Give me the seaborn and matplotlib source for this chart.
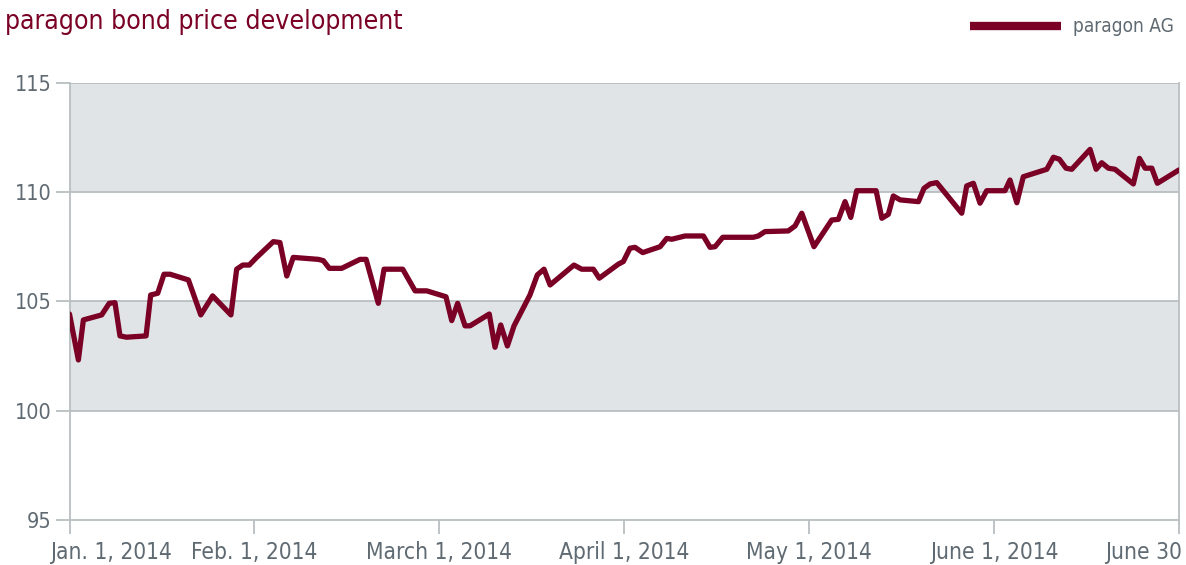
import numpy as np
import pandas as pd
import matplotlib
matplotlib.use("Agg")
import matplotlib.pyplot as plt
import matplotlib.transforms as mtransforms
from matplotlib import font_manager
import seaborn as sns

# ---- data (x in evenly spaced month units: 0 = Jan 1, 6 = June 30) ----
month_pos = [0.000, 0.048, 0.075, 0.174, 0.215, 0.246, 0.273, 0.309, 0.414, 0.439,
             0.477, 0.511, 0.544, 0.643, 0.710, 0.774, 0.873, 0.904, 0.937, 0.972,
             1.012, 1.102, 1.138, 1.175, 1.210, 1.346, 1.373, 1.405, 1.472, 1.571,
             1.604, 1.670, 1.701, 1.802, 1.869, 1.932, 2.036, 2.067, 2.099, 2.139,
             2.166, 2.270, 2.301, 2.332, 2.368, 2.404, 2.490, 2.530, 2.566, 2.599,
             2.728, 2.770, 2.833, 2.865, 2.968, 2.995, 3.031, 3.058, 3.100, 3.194,
             3.230, 3.257, 3.329, 3.428, 3.464, 3.491, 3.533, 3.698, 3.725, 3.761,
             3.887, 3.924, 3.960, 4.026, 4.122, 4.158, 4.194, 4.225, 4.257, 4.362,
             4.393, 4.428, 4.455, 4.492, 4.591, 4.621, 4.654, 4.690, 4.825, 4.852,
             4.888, 4.924, 4.960, 5.059, 5.086, 5.123, 5.158, 5.285, 5.321, 5.353,
             5.389, 5.420, 5.519, 5.552, 5.582, 5.618, 5.654, 5.753, 5.786, 5.817,
             5.853, 5.883, 6.000]
price = [104.42, 102.32, 104.15, 104.38, 104.91, 104.94, 103.42, 103.36, 103.42, 105.29,
         105.37, 106.24, 106.24, 105.98, 104.38, 105.25, 104.38, 106.47, 106.66, 106.66,
         107.01, 107.73, 107.69, 106.16, 107.01, 106.92, 106.86, 106.51, 106.51, 106.92,
         106.92, 104.91, 106.47, 106.47, 105.48, 105.48, 105.21, 104.12, 104.91, 103.88,
         103.88, 104.42, 102.90, 103.92, 102.96, 103.88, 105.29, 106.21, 106.47, 105.75,
         106.66, 106.47, 106.47, 106.06, 106.70, 106.82, 107.43, 107.47, 107.23, 107.50,
         107.88, 107.84, 107.99, 107.99, 107.47, 107.50, 107.93, 107.93, 107.99, 108.19,
         108.22, 108.45, 109.03, 107.50, 108.72, 108.75, 109.56, 108.84, 110.06, 110.06,
         108.80, 108.98, 109.82, 109.64, 109.56, 110.17, 110.37, 110.43, 109.03, 110.28,
         110.40, 109.49, 110.06, 110.06, 110.55, 109.51, 110.70, 111.04, 111.59, 111.50,
         111.09, 111.04, 111.95, 111.04, 111.34, 111.09, 111.04, 110.37, 111.54, 111.09,
         111.09, 110.40, 111.01]
tick_pos = [0, 1, 2, 3, 4, 5, 6]
tick_labels = ["Jan. 1, 2014", "Feb. 1, 2014", "March 1, 2014", "April 1, 2014",
               "May 1, 2014", "June 1, 2014", "June 30"]
y_ticks = [95, 100, 105, 110, 115]
bands = [(100, 105), (110, 115)]
title = "paragon bond price development"
series_name = "paragon AG"

df = pd.DataFrame({"pos": month_pos, "price": price})

# ---- style ----
sns.set_theme(style="white")
available = {f.name for f in font_manager.fontManager.ttflist}
fam = []
for cand in ["Liberation Sans Narrow", "DejaVu Sans"]:
    if cand in available:
        fam.append(cand)
plt.rcParams["font.family"] = fam or ["DejaVu Sans"]
plt.rcParams["font.stretch"] = "condensed"

LINE = "#7a0025"
TXT = "#5f6a72"
GRID = "#b9bec2"
BAND = "#e1e4e7"

W, H = 1186, 565
fig = plt.figure(figsize=(W / 100, H / 100), dpi=100)
ax = fig.add_axes([69.5 / W, 1 - 520 / H, (1179 - 69.5) / W, (520 - 82.7) / H])

for lo, hi in bands:
    ax.axhspan(lo, hi, color=BAND, lw=0, zorder=0)
for yv in y_ticks[1:]:
    ax.axhline(yv, color=GRID, lw=1.3, zorder=1)

sns.lineplot(data=df, x="pos", y="price", ax=ax, color=LINE, linewidth=3.8,
             zorder=3, label=series_name, legend=False)

ax.set_xlim(0, 6)
ax.set_ylim(95, 115)
ax.set_xticks(tick_pos)
ax.set_xticklabels(tick_labels)
ax.set_yticks(y_ticks)
ax.set_xlabel("")
ax.set_ylabel("")

for s in ["left", "bottom", "right"]:
    ax.spines[s].set_visible(True)
    ax.spines[s].set_color(GRID)
    ax.spines[s].set_linewidth(1.3)
ax.spines["top"].set_visible(False)

ax.tick_params(axis="both", colors=GRID, length=10, width=1.3, direction="out",
               labelcolor=TXT, labelsize=16)
ax.tick_params(axis="x", pad=5, bottom=True)
ax.tick_params(axis="y", pad=3, left=True)

# title and legend text
title_t = fig.text(5 / W, 1 - 29 / H, title, color=LINE, fontsize=24, ha="left", va="baseline")
fig.add_artist(plt.Line2D([970 / W, 1061 / W], [1 - 26 / H, 1 - 26 / H],
                          color=LINE, lw=6, solid_capstyle="butt"))
leg_t = fig.text(1073 / W, 1 - 26 / H, series_name, color=TXT, fontsize=14,
                 ha="left", va="center")

# fit font sizes to the reference text widths
renderer = fig.canvas.get_renderer()
def fit(txt, target_px):
    w = txt.get_window_extent(renderer).width
    txt.set_fontsize(txt.get_fontsize() * target_px / w)

fit(title_t, 400)
fit(leg_t, 102)
xl = ax.get_xticklabels()
w0 = xl[0].get_window_extent(renderer).width
xsize = 16 * 123 / w0
ax.tick_params(axis="x", labelsize=xsize)
yl = ax.get_yticklabels()
wy = yl[-1].get_window_extent(renderer).width
ax.tick_params(axis="y", labelsize=16 * 37 / wy)

xl = ax.get_xticklabels()
xl[0].set_horizontalalignment("left")
xl[0].set_transform(xl[0].get_transform() +
                    mtransforms.ScaledTranslation(-19.5 / 100, 0, fig.dpi_scale_trans))
xl[-1].set_horizontalalignment("right")
xl[-1].set_transform(xl[-1].get_transform() +
                     mtransforms.ScaledTranslation(3 / 100, 0, fig.dpi_scale_trans))

fig.savefig("out.png", dpi=100)
